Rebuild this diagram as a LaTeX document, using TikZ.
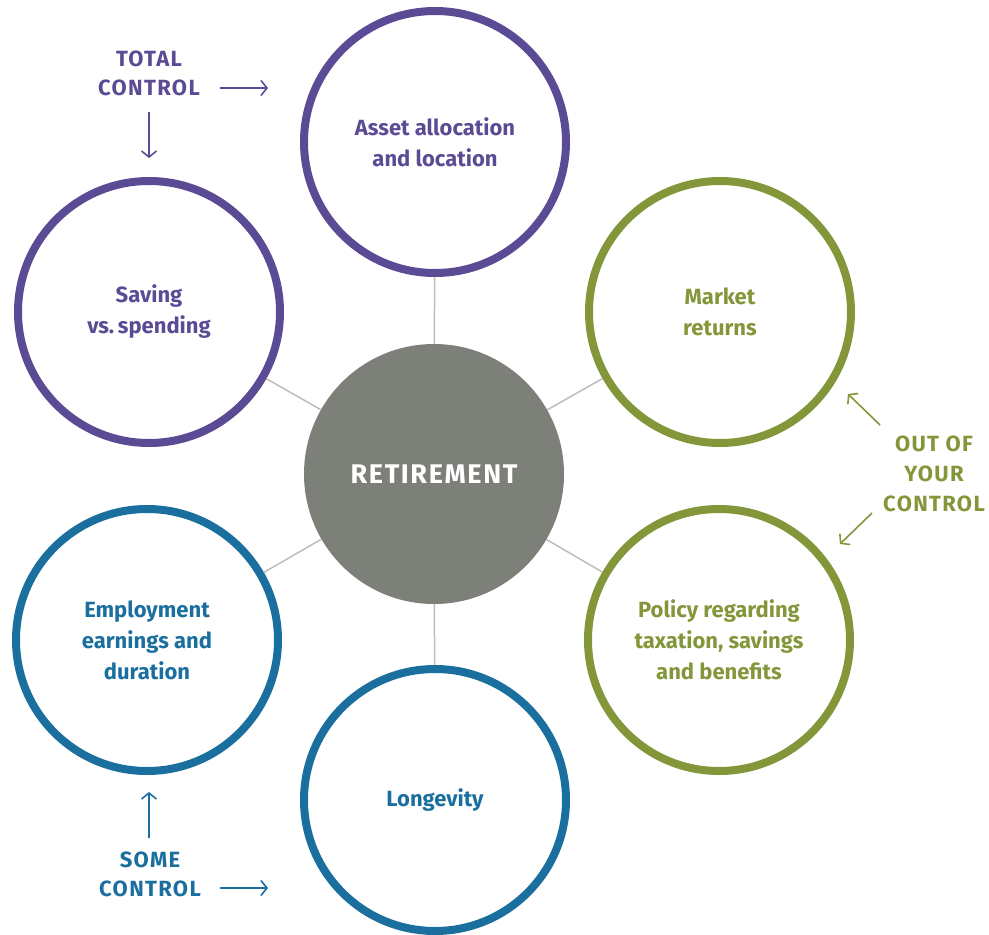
\documentclass[tikz,border=0pt]{standalone}
\usepackage{fontspec}
\setmainfont{Fira Sans}
\usetikzlibrary{calc,arrows.meta}

\definecolor{totalc}{HTML}{5B4B94}
\definecolor{outc}{HTML}{84963A}
\definecolor{somec}{HTML}{1B6F9F}
\definecolor{retgray}{HTML}{7D7F79}
\definecolor{linkgray}{HTML}{BDBDBB}

\begin{document}
\begin{tikzpicture}[x=1pt,y=-1pt,
  topic/.style={circle, draw=#1, line width=8pt, minimum size=262pt, inner sep=0pt,
    text=#1, align=center, font=\bfseries\fontsize{22}{31}\selectfont},
  link/.style={draw=linkgray, line width=1.5pt},
  ctrl/.style={text=#1, align=center,
    font=\bfseries\fontsize{22}{29}\selectfont\addfontfeatures{LetterSpace=6}},
  pointer/.style={draw=#1, line width=1.6pt, -{Straight Barb[length=6pt,width=15pt]}}]
  \useasboundingbox (0,0) rectangle (989,935);

  %% Centre of the wheel
  \node[circle, fill=retgray, minimum size=260pt, inner sep=0pt, text=white,
    font=\bfseries\fontsize{27}{30}\selectfont] (ret) at (434,474)
    {\addfontfeatures{LetterSpace=6}RETIREMENT};

  %% The six factors round it
  \foreach \name/\x/\y/\col/\txt in {
      asset/435/142/totalc/{Asset allocation\\and location},
      saving/149/312/totalc/{Saving\\vs.\,spending},
      market/720/312/outc/{Market\\returns},
      policy/719/640/outc/{Policy regarding\\taxation, savings\\and benefits},
      employ/147/640/somec/{Employment\\earnings and\\duration},
      longevity/435/800/somec/{Longevity}}
  {
    \node[topic=\col] (\name) at (\x,\y) {\txt};
    \draw[link] (ret) -- (\name);
  }

  %% Total control
  \node[ctrl=totalc] (total) at (149,73) {TOTAL\\CONTROL};
  \coordinate (totalR0) at (220,88);
  \coordinate (totalR1) at (268,88);
  \coordinate (totalD0) at (149,112);
  \coordinate (totalD1) at (149,158);
  \draw[pointer=totalc] (totalR0) -- (totalR1);
  \draw[pointer=totalc] (totalD0) -- (totalD1);

  %% Out of your control
  \node[ctrl=outc, font=\bfseries\fontsize{22}{30}\selectfont\addfontfeatures{LetterSpace=6}]
    (out) at (934,474) {OUT OF\\YOUR\\CONTROL};
  \coordinate (outU0) at (880,425);
  \coordinate (outU1) at (848,394);
  \coordinate (outL0) at (872,513);
  \coordinate (outL1) at (840,544);
  \draw[pointer=outc] (outU0) -- (outU1);
  \draw[pointer=outc] (outL0) -- (outL1);

  %% Some control
  \node[ctrl=somec] (some) at (150,874) {SOME\\CONTROL};
  \coordinate (someU0) at (149,838);
  \coordinate (someU1) at (149,792);
  \coordinate (someR0) at (220,888);
  \coordinate (someR1) at (268,888);
  \draw[pointer=somec] (someU0) -- (someU1);
  \draw[pointer=somec] (someR0) -- (someR1);
\end{tikzpicture}
\end{document}
